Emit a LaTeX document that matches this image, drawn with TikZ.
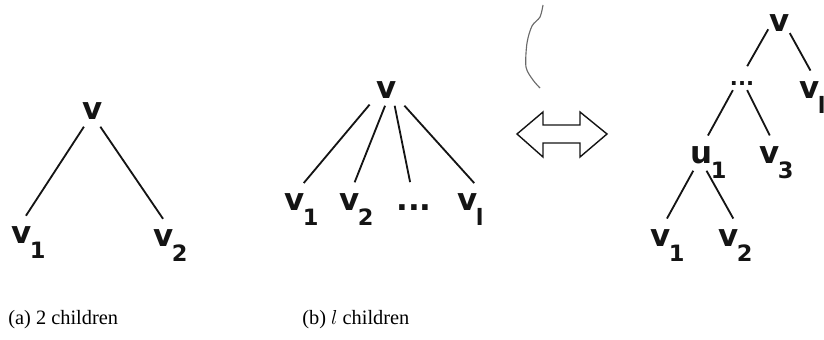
\documentclass[tikz,border=0pt]{standalone}
\usepackage{fontspec}
\setmainfont{Liberation Serif}
\newfontfamily\treefont{DejaVu Sans}
\usetikzlibrary{positioning,calc}
\definecolor{inkblack}{RGB}{20,20,20}
\definecolor{scangray}{RGB}{105,105,105}
\newcommand{\vsub}[2]{#1\kern-1.5pt\rlap{\raisebox{-11pt}{\fontsize{16}{16}\selectfont #2}}\kern1.5pt}

\begin{document}
\begin{tikzpicture}[
 x=0.025cm, y=-0.025cm,
 vert/.style={inner sep=5pt, text height=12pt, text depth=0pt, text=inkblack, font=\treefont\bfseries\fontsize{22}{24}\selectfont},
 dots/.style={vert, inner sep=3pt, text height=8pt, font=\treefont\bfseries\fontsize{15}{16}\selectfont},
 edge/.style={line width=1.3pt, color=inkblack, shorten >=3pt},
 outline/.style={line width=1pt, color=inkblack, line join=miter},
 caption/.style={anchor=west, inner sep=0pt, font=\fontsize{14.5}{16}\selectfont}
]
\useasboundingbox (0,0) rectangle (824,340);

% (a) 2 children
\node[vert] (ra) at (93,111) {v};
\node[vert] (a1) at (22,235) {\vsub{v}{1}};
\node[vert] (a2) at (164,238) {\vsub{v}{2}};

\draw[edge] (ra.240) -- (a1.84);
\draw[edge] (ra.295) -- (a2.85);

% (b) l children
\node[vert] (rb) at (387,90) {v};
\node[vert] (b1) at (295,202) {\vsub{v}{1}};
\node[vert] (b2) at (350,202) {\vsub{v}{2}};
\node[vert] (db) at (414,202) {...};
\node[vert] (bl) at (468,202) {\vsub{v}{l}};

\draw[edge] (rb.220) -- (b1.69);
\draw[edge] (rb.263) -- (b2.79);
\draw[edge] (rb.296) -- (db.101);
\draw[edge] (rb.318) -- (bl.60);

% equivalence arrow (and the stray pen mark above it)
\draw[scangray, line width=0.8pt] plot[smooth] coordinates {(543,5) (540,17) (532,26) (527,43) (526,67) (533,80) (540,88)};
\draw[outline] (517,134) -- (543,112) -- (543,125) -- (580,125) -- (580,112) -- (607,134)
 -- (580,157) -- (580,143) -- (543,143) -- (543,157) -- cycle;

% binary form of (b)
\node[vert, inner sep=1pt] (rc) at (780,23) {v};
\node[dots] (dc) at (742,80) {...};
\node[vert] (cl) at (810,90) {\vsub{v}{l}};
\node[vert] (u1) at (702,155) {\vsub{u}{1}};
\node[vert] (c3) at (770,155) {\vsub{v}{3}};
\node[vert] (c1) at (661,238) {\vsub{v}{1}};
\node[vert] (c2) at (729,238) {\vsub{v}{2}};

\draw[edge] (rc.208) -- (dc.73);
\draw[edge] (rc.314) -- (cl.81);
\draw[edge] (dc.228) -- (u1.76);
\draw[edge] (dc.297) -- (c3.84);
\draw[edge] (u1.241) -- (c1.76);
\draw[edge] (u1.286) -- (c2.68);

% captions
\node[caption] (capa) at (8,320) {(a)\ 2 children};
\node[caption] (capb) at (302,320) {(b)\ $l$ children};

\end{tikzpicture}
\end{document}
